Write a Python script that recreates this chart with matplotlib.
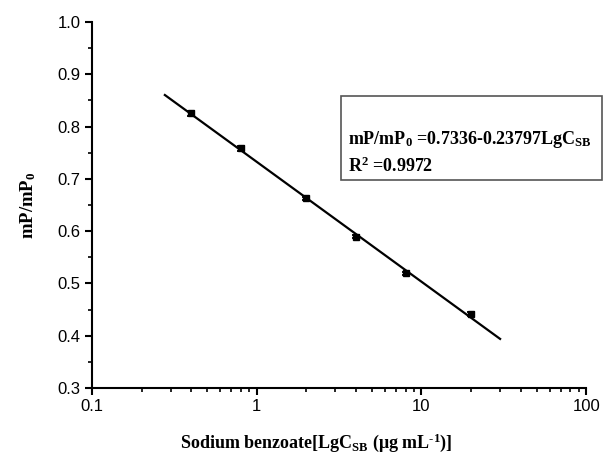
import matplotlib
matplotlib.use("Agg")
import matplotlib.pyplot as plt
import numpy as np
from matplotlib.ticker import FixedLocator, FuncFormatter, LogLocator, MultipleLocator

# data
conc = [0.4, 0.8, 2.0, 4.0, 8.0, 20.0]          # ug/mL
ratio = [0.825, 0.758, 0.663, 0.589, 0.519, 0.442]
ratio_err = [0.004, 0.004, 0.003, 0.003, 0.003, 0.004]
fit_range = [0.277, 30.0]
eq_lines = [r"mP/mP$_{0}$ =0.7336-0.23797LgC$_{SB}$", r"R$^{2}$ =0.9972"]

plt.rcParams["mathtext.fontset"] = "custom"
plt.rcParams["mathtext.rm"] = "Liberation Serif:bold"
plt.rcParams["mathtext.it"] = "Liberation Serif:bold"
plt.rcParams["mathtext.bf"] = "Liberation Serif:bold"

fig = plt.figure(figsize=(6.05, 4.57), dpi=100)
ax = fig.add_axes([0.152, 0.151, 0.817, 0.801])

# linear fit in log space, drawn over the fit range
k, b = np.polyfit(np.log10(conc), ratio, 1)
xf = np.logspace(np.log10(fit_range[0]), np.log10(fit_range[1]), 50)
ax.plot(xf, b + k * np.log10(xf), color="black", lw=1.6, zorder=2)

ax.errorbar(conc, ratio, yerr=ratio_err, fmt="s", color="black", ms=5,
            capsize=3, elinewidth=1.3, capthick=1.3, zorder=3)

ax.set_xscale("log")
ax.set_xlim(0.1, 100)
ax.set_ylim(0.3, 1.0)
ax.xaxis.set_major_locator(FixedLocator([0.1, 1, 10, 100]))
ax.xaxis.set_major_formatter(FuncFormatter(lambda v, p: f"{v:g}"))
ax.xaxis.set_minor_locator(LogLocator(base=10, subs=np.arange(2, 10)))
ax.xaxis.set_minor_formatter(FuncFormatter(lambda v, p: ""))
ax.yaxis.set_major_locator(MultipleLocator(0.1))
ax.yaxis.set_minor_locator(MultipleLocator(0.05))
ax.yaxis.set_major_formatter(FuncFormatter(lambda v, p: f"{v:.1f}"))

for s in ["top", "right"]:
    ax.spines[s].set_visible(False)
for s in ["left", "bottom"]:
    ax.spines[s].set_linewidth(1.5)
ax.tick_params(which="major", direction="out", length=5, width=1.5,
               labelsize=12, pad=3)
ax.tick_params(which="minor", direction="out", length=3, width=1.2)
for lab in ax.get_xticklabels() + ax.get_yticklabels():
    lab.set_fontfamily("Liberation Sans")

ax.set_xlabel(r"Sodium benzoate[LgC$_{SB}$ (μg mL$^{\text{-}1}$)]", family="Liberation Serif",
              fontweight="bold", fontsize=13)
ax.xaxis.set_label_coords(0.453, -0.118)
ax.set_ylabel("mP/mP$_{0}$", family="Liberation Serif", fontweight="bold",
              fontsize=13.5, labelpad=14)

# equation box
box = plt.Rectangle((341 / 605, 1 - 180 / 457), 261 / 605, 84 / 457,
                    transform=fig.transFigure, fill=False, ec="#555555", lw=1.2)
fig.patches.append(box)
fig.text(348 / 605, 1 - 140 / 457, eq_lines[0], family="Liberation Serif",
         fontweight="bold", fontsize=13, va="center")
fig.text(348 / 605, 1 - 166 / 457, eq_lines[1], family="Liberation Serif",
         fontweight="bold", fontsize=13, va="center")

fig.savefig("out.png", dpi=100)
